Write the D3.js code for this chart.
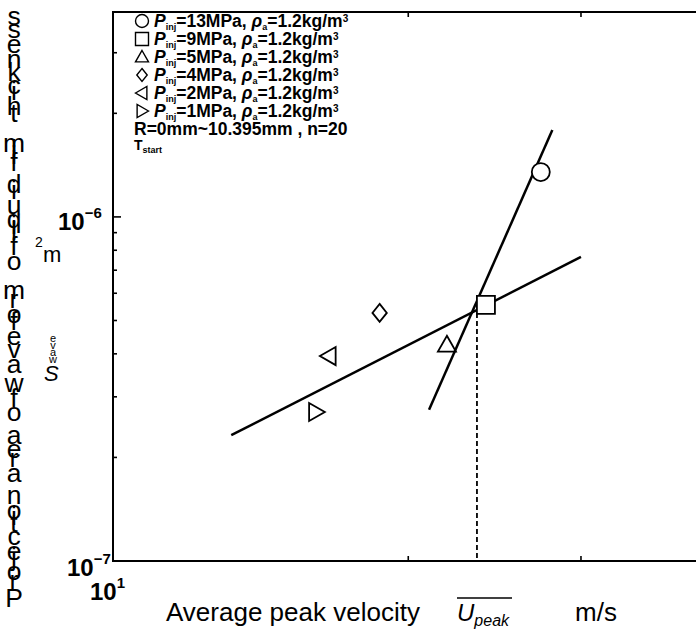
<!DOCTYPE html>
<html>
<head>
<meta charset="utf-8">
<script src="https://cdn.jsdelivr.net/npm/d3@7"></script>
<style>
  body { margin: 0; background: #fff; }
  text { font-family: "Liberation Sans", Arial, Helvetica, sans-serif; fill: #000; }
</style>
</head>
<body>
<div id="chart"></div>
<script>
// Chart size
var width = 696;
var height = 631;
var margin = { top: 12, right: 0, bottom: 70, left: 113 };

// Data
var pressures = ["13", "9", "5", "4", "2", "1"];
var symbols = ["circle", "square", "triangle", "diamond", "left", "right"];
var velocity = [27.3, 24.0, 21.9, 18.7, 16.6, 16.1];           // m/s
var area = [1.35e-6, 5.55e-7, 4.25e-7, 5.26e-7, 3.94e-7, 2.71e-7]; // m^2

// fitted lines (end points)
var fitLow = [[13.2, 2.32e-7], [30.0, 7.65e-7]];
var fitHigh = [[21.0, 2.75e-7], [28.05, 1.79e-6]];
var uPeak = [23.5, 5.85e-7];

var xMinor = [20, 30];
var yMinor = [2e-7, 3e-7, 4e-7, 5e-7, 6e-7, 7e-7, 8e-7, 9e-7, 2e-6, 3e-6];
var yMajor = [1e-6];

var yLabel = "Projection area of waveform of liquid film thickness";

var svg = d3.select("#chart")
    .append("svg")
    .attr("width", width)
    .attr("height", height);

// Scales
var x = d3.scaleLog()
    .domain([10, 39.3])
    .range([margin.left, width - margin.right]);

var y = d3.scaleLog()
    .domain([1e-7, 3.94e-6])
    .range([height - margin.bottom, margin.top]);

var x0 = margin.left, x1 = width - margin.right;
var y0 = height - margin.bottom, y1 = margin.top;

// frame
svg.append("path")
    .attr("d", "M" + x1 + "," + y1 + "H" + x0 + "V" + y0 + "H" + x1)
    .attr("fill", "none")
    .attr("stroke", "#000")
    .attr("stroke-width", 2);

// ticks (inward)
var ticks = svg.append("g").attr("stroke", "#000").attr("stroke-width", 1.6);
xMinor.forEach(function(v) {
    ticks.append("line").attr("x1", x(v)).attr("x2", x(v)).attr("y1", y0).attr("y2", y0 - 5);
    ticks.append("line").attr("x1", x(v)).attr("x2", x(v)).attr("y1", y1).attr("y2", y1 + 5);
});
yMinor.forEach(function(v) {
    ticks.append("line").attr("x1", x0).attr("x2", x0 + 4).attr("y1", y(v)).attr("y2", y(v));
});
yMajor.forEach(function(v) {
    ticks.append("line").attr("x1", x0).attr("x2", x0 + 8).attr("y1", y(v)).attr("y2", y(v));
});

// tick labels
function powLabel(g, px, py, base, exp) {
    var t = g.append("text")
        .attr("x", px).attr("y", py)
        .attr("font-size", 24).attr("font-weight", "bold");
    t.append("tspan").text(base);
    t.append("tspan").attr("dy", -12).attr("font-size", 15).text(exp);
    return t;
}
powLabel(svg, 67, 576, "10", "\u22127");
powLabel(svg, 58, 230, "10", "\u22126");
powLabel(svg, 90, 600, "10", "1");

// fit lines
var line = d3.line()
    .x(function(d) { return x(d[0]); })
    .y(function(d) { return y(d[1]); });

svg.selectAll(".fit")
    .data([fitLow, fitHigh])
    .enter().append("path")
    .attr("class", "fit")
    .attr("d", line)
    .attr("fill", "none")
    .attr("stroke", "#000")
    .attr("stroke-width", 2.5);

// dashed line at U_peak
svg.append("line")
    .attr("x1", x(uPeak[0])).attr("x2", x(uPeak[0]))
    .attr("y1", y(uPeak[1])).attr("y2", y0)
    .attr("stroke", "#000")
    .attr("stroke-width", 1.8)
    .attr("stroke-dasharray", "5,3");

// marker shapes
function markerPath(type, s) {
    var h = s / 2;
    switch (type) {
        case "circle": return null;
        case "square": return "M" + -h + "," + -h + "H" + h + "V" + h + "H" + -h + "Z";
        case "triangle": return "M0," + (-h) + "L" + h + "," + (h * 0.75) + "L" + -h + "," + (h * 0.75) + "Z";
        case "diamond": return "M0," + -h + "L" + (h * 0.8) + ",0L0," + h + "L" + (-h * 0.8) + ",0Z";
        case "left": return "M" + -h + ",0L" + (h * 0.75) + "," + -h + "L" + (h * 0.75) + "," + h + "Z";
        case "right": return "M" + h + ",0L" + (-h * 0.75) + "," + -h + "L" + (-h * 0.75) + "," + h + "Z";
    }
}
function drawMarker(g, type, cx, cy, s, sw) {
    if (type === "circle") {
        g.append("circle").attr("cx", cx).attr("cy", cy).attr("r", s / 2)
            .attr("fill", "#fff").attr("stroke", "#000").attr("stroke-width", sw);
    } else {
        g.append("path").attr("d", markerPath(type, s))
            .attr("transform", "translate(" + cx + "," + cy + ")")
            .attr("fill", type === "square" ? "#fff" : "none")
            .attr("stroke", "#000").attr("stroke-width", sw);
    }
}

var marks = svg.append("g");
velocity.forEach(function(v, i) {
    drawMarker(marks, symbols[i], x(v), y(area[i]), 18, 1.8);
});

// legend
var legend = svg.append("g").attr("font-size", 17.5).attr("font-weight", "bold");
var rowH = 18, ly0 = 21;
pressures.forEach(function(p, i) {
    var ry = ly0 + i * rowH;
    drawMarker(legend, symbols[i], 142, ry, 13, 1.4);
    var t = legend.append("text").attr("x", 154).attr("y", ry + 6);
    t.append("tspan").attr("font-style", "italic").text("P");
    t.append("tspan").attr("font-size", 9).attr("dy", 3).text("inj");
    t.append("tspan").attr("dy", -3).text("=" + p + "MPa, ");
    t.append("tspan").attr("font-style", "italic").text("\u03C1");
    t.append("tspan").attr("font-size", 9).attr("dy", 3).text("a");
    t.append("tspan").attr("dy", -3).text("=1.2kg/m");
    t.append("tspan").attr("font-size", 10).attr("dy", -5).text("3");
});
legend.append("text").attr("x", 134).attr("y", ly0 + 6 * rowH + 6).text("R=0mm~10.395mm , n=20");
var ts = legend.append("text").attr("x", 134).attr("y", ly0 + 7 * rowH + 3).attr("font-size", 14);
ts.append("tspan").text("T");
ts.append("tspan").attr("font-size", 9).attr("dy", 3).text("start");

// y label: characters stacked from the bottom up
var yl = svg.append("g").attr("font-size", 20);
var probe = yl.append("text").attr("visibility", "hidden");
var adv = yLabel.split("").map(function(c) {
    probe.text(c === " " ? "\u00A0" : c);
    return probe.node().getComputedTextLength();
});
probe.remove();
var total = d3.sum(adv);
var k = 595 / total;
yl.attr("font-size", 20 * k);
var cy = 607;
yLabel.split("").forEach(function(c, i) {
    if (c !== " ") {
        yl.append("text").attr("x", 14).attr("y", cy)
            .attr("text-anchor", "middle").text(c);
    }
    cy -= adv[i] * k;
});

// units on the y side
svg.append("text").attr("x", 35).attr("y", 247).attr("font-size", 14).text("2");
svg.append("text").attr("x", 43).attr("y", 262).attr("font-size", 22).text("m");
svg.append("text").attr("x", 44).attr("y", 381).attr("font-size", 22).attr("font-style", "italic").text("S");
var sw = "wave".split("");
sw.forEach(function(c, i) {
    svg.append("text").attr("x", 53).attr("y", 363 - i * 7)
        .attr("font-size", 11).attr("text-anchor", "middle").text(c);
});

// x label
svg.append("text").attr("x", 166).attr("y", 621).attr("font-size", 26).text("Average peak velocity");
var ut = svg.append("text").attr("x", 457).attr("y", 621).attr("font-size", 24).attr("font-style", "italic");
ut.append("tspan").text("U");
ut.append("tspan").attr("font-size", 16).attr("dy", 5).text("peak");
svg.append("line").attr("x1", 457).attr("x2", 512).attr("y1", 598).attr("y2", 598)
    .attr("stroke", "#000").attr("stroke-width", 1.5);
svg.append("text").attr("x", 575).attr("y", 621).attr("font-size", 26).text("m/s");
</script>
</body>
</html>
